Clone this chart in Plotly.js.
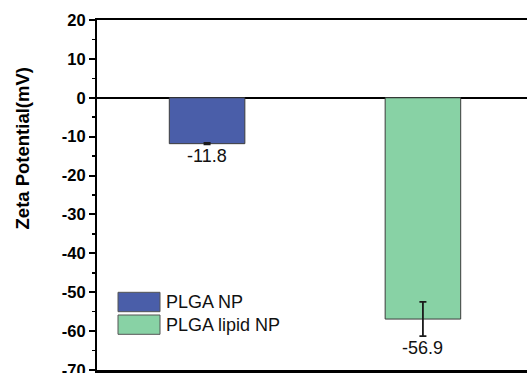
<!DOCTYPE html>
<html>
<head>
<meta charset="utf-8">
<script src="https://cdn.plot.ly/plotly-3.0.1.min.js"></script>
<style>
  html, body { margin: 0; padding: 0; overflow: hidden; background: #fff; }
  #chart { width: 560px; height: 410px; }
</style>
</head>
<body>
<div id="chart"></div>
<script>
// Zeta potential of the two nanoparticle formulations
const samples = ['PLGA NP', 'PLGA lipid NP'];
const zeta = [-11.8, -56.9];
const zetaSD = [0.2, 4.4];
const barColors = ['#4a5ea9', '#88d2a5'];
const yTicks = [20, 10, 0, -10, -20, -30, -40, -50, -60, -70];
const yTitle = 'Zeta Potential(mV)';

const FONT = 'Arial, "Liberation Sans", sans-serif';

const traces = samples.map((name, i) => ({
  type: 'bar',
  name: name,
  x: [name],
  y: [zeta[i]],
  width: 0.35,
  marker: { color: barColors[i], line: { color: '#3c3c3c', width: 1 } },
  error_y: { type: 'data', array: [zetaSD[i]], visible: true,
             color: '#1a1a1a', thickness: 1.8, width: 3.5 },
  showlegend: false,
  hoverinfo: 'skip'
}));

// value labels under each bar / error bar
const valueLabels = samples.map((name, i) => ({
  x: name, y: zeta[i] - zetaSD[i], xref: 'x', yref: 'y',
  text: zeta[i].toFixed(1), showarrow: false,
  yanchor: 'middle', yshift: -12,
  font: { family: FONT, size: 18, color: '#111' }
}));

// legend drawn as boxes + text near the lower left corner
const legendRows = [{ y0: 58.3, y1: 77.7, ty: 0.194 }, { y0: 35.7, y1: 55, ty: 0.1286 }];
const legendShapes = legendRows.map((r, i) => ({
  type: 'rect', xref: 'paper', yref: 'paper',
  xsizemode: 'pixel', ysizemode: 'pixel', xanchor: 0, yanchor: 0,
  x0: 21, x1: 63, y0: r.y0, y1: r.y1,
  fillcolor: barColors[i], line: { color: '#555', width: 1 }
}));
const legendText = legendRows.map((r, i) => ({
  xref: 'paper', yref: 'paper', x: 0.1537, y: r.ty,
  xanchor: 'left', yanchor: 'middle', showarrow: false,
  text: samples[i], font: { family: FONT, size: 18, color: '#111' }
}));

// y-axis title, placed as a rotated annotation
const titleNote = {
  xref: 'paper', yref: 'paper', x: -0.172, y: 0.633,
  xanchor: 'center', yanchor: 'middle', textangle: -90, showarrow: false,
  text: '<b>' + yTitle + '</b>',
  font: { family: FONT, size: 18.5, color: '#000' }
};

const layout = {
  width: 560, height: 410,
  margin: { l: 97, r: 27, t: 20, b: 40 },
  paper_bgcolor: '#fff', plot_bgcolor: '#fff',
  barmode: 'overlay',
  showlegend: false,
  xaxis: {
    type: 'category', categoryorder: 'array', categoryarray: samples,
    range: [-0.51, 1.51],
    showticklabels: false, ticks: '',
    showline: true, linecolor: '#000', linewidth: 2.5, mirror: true,
    showgrid: false, zeroline: false, fixedrange: true
  },
  yaxis: {
    range: [-70, 20],
    tickvals: yTicks, ticktext: yTicks.map(v => '<b>' + v + '</b>'),
    ticks: 'outside', ticklen: 6, tickwidth: 2, tickcolor: '#000',
    minor: { dtick: 5, ticks: 'outside', ticklen: 3.5, tickwidth: 1.5, tickcolor: '#000' },
    tickfont: { family: FONT, size: 16.5, color: '#000' },
    showline: true, linecolor: '#000', linewidth: 2,
    showgrid: false,
    zeroline: true, zerolinecolor: '#000', zerolinewidth: 2,
    fixedrange: true
  },
  shapes: legendShapes,
  annotations: valueLabels.concat(legendText, [titleNote])
};

Plotly.newPlot('chart', traces, layout, { displayModeBar: false, staticPlot: true });
</script>
</body>
</html>
